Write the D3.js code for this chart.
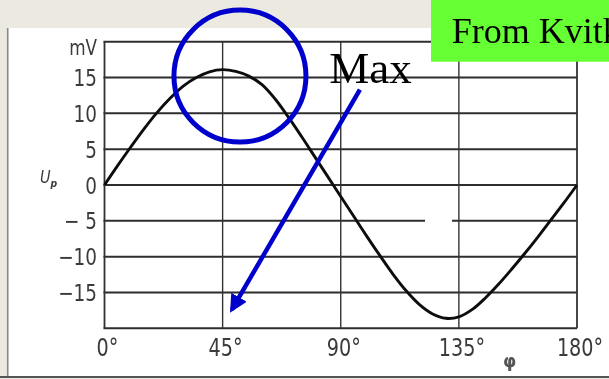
<!DOCTYPE html>
<html>
<head>
<meta charset="utf-8">
<script src="https://cdn.jsdelivr.net/npm/d3@7"></script>
<style>
html,body{margin:0;padding:0;background:#ECE9E0;}
svg{display:block;}
</style>
</head>
<body>
<svg id="chart" width="609" height="379"></svg>
<script>
// ---- data ----
const phiDeg  = [0, 5, 10, 15, 20, 25, 30, 35, 40, 45, 50, 55, 60, 65, 70, 75, 80, 85, 90, 95, 100, 105, 110, 115, 120, 125, 130, 135, 140, 145, 150, 155, 160, 165, 170, 175, 180];
const voltage = [0, 2.7, 5.3, 7.8, 10.1, 12.1, 13.8, 15.0, 15.8, 16.1, 15.85, 15.2, 14.0, 12.0, 9.5, 6.8, 4.0, 1.2, -1.6, -4.4, -7.2, -9.9, -12.5, -14.8, -16.7, -18.0, -18.6, -18.4, -17.4, -15.8, -13.9, -11.8, -9.6, -7.3, -4.9, -2.5, 0];
const yTicks = [-15, -10, -5, 0, 5, 10, 15];
const yTickLabels = ["\u221215", "\u221210", "\u2212 5", "0", "5", "10", "15"];
const xTicks = [0, 45, 90, 135, 180];
const xTickLabels = ["0\u00B0", "45\u00B0", "90\u00B0", "135\u00B0", "180\u00B0"];
const yUnit = "mV";
const yName = "U";
const yNameSub = "p";
const xName = "\u03C6";
const noteText = "Max";
const sourceText = "From Kvitka";
// annotation anchors in data units
const circleAt = [51.6, 15.2];
const arrowFrom = [97.3, 13.3];
const arrowTo = [48.5, -17.4];
const noteAt = [85.6, 14.2];

// ---- layout ----
const svg = d3.select("#chart");
const W = 609, H = 379;
const x = d3.scaleLinear().domain([0, 180]).range([104.5, 577]);
const y = d3.scaleLinear().domain([-20, 20]).range([328.3, 41.7]);

// background panels
svg.append("rect").attr("x", 0).attr("y", 0).attr("width", W).attr("height", H).attr("fill", "#ECE9E0");
svg.append("rect").attr("x", 8.5).attr("y", 28).attr("width", W - 8.5).attr("height", 348).attr("fill", "#ffffff");
svg.append("line").attr("x1", 7.7).attr("x2", 7.7).attr("y1", 28).attr("y2", 377).attr("stroke", "#8a8a8a").attr("stroke-width", 1.6);
svg.append("line").attr("x1", 0).attr("x2", W).attr("y1", 377).attr("y2", 377).attr("stroke", "#555").attr("stroke-width", 2);

const defs = svg.append("defs");
defs.append("filter").attr("id", "scan").attr("x", "-5%").attr("y", "-5%").attr("width", "110%").attr("height", "110%")
  .append("feGaussianBlur").attr("stdDeviation", 0.55);
defs.append("marker").attr("id", "head").attr("viewBox", "0 0 10 10")
  .attr("refX", 8).attr("refY", 5).attr("markerWidth", 4).attr("markerHeight", 4)
  .attr("orient", "auto").attr("markerUnits", "strokeWidth")
  .append("path").attr("d", "M0,0 L10,5 L0,10 z").attr("fill", "#0000CC");

const scan = svg.append("g").attr("filter", "url(#scan)");

// horizontal grid lines (every 5 mV from -20 to 20)
const hLines = d3.range(-20, 20.01, 5);
scan.append("g").selectAll("line").data(hLines).join("line")
  .attr("x1", x(0) - 1).attr("x2", x(180))
  .attr("y1", d => y(d)).attr("y2", d => y(d))
  .attr("stroke", "#2e2e2e").attr("stroke-width", 2);

// vertical grid lines
scan.append("g").selectAll("line").data(xTicks).join("line")
  .attr("x1", d => x(d)).attr("x2", d => x(d))
  .attr("y1", y(20)).attr("y2", y(-20))
  .attr("stroke", "#333").attr("stroke-width", d => (d === 0 || d === 180) ? 1.8 : 1.4);

// curve
const pts = phiDeg.map((p, i) => [p, voltage[i]]);
const line = d3.line().x(d => x(d[0])).y(d => y(d[1])).curve(d3.curveCatmullRom.alpha(0.5));
scan.append("path").datum(pts).attr("d", line)
  .attr("fill", "none").attr("stroke", "#111").attr("stroke-width", 2.9);

// y tick labels
const labFont = "'DejaVu Sans', sans-serif";
scan.append("g").selectAll("text").data(yTicks).join("text")
  .attr("transform", d => `translate(97,${y(d) + 8.5}) scale(0.8,1)`)
  .attr("text-anchor", "end").attr("font-family", labFont).attr("font-size", 23)
  .attr("fill", "#3a3a3a").text((d, i) => yTickLabels[i]);
scan.append("text")
  .attr("transform", `translate(97,${y(20) + 13.5}) scale(0.8,1)`)
  .attr("text-anchor", "end").attr("font-family", labFont).attr("font-size", 21)
  .attr("fill", "#3a3a3a").text(yUnit);

// y name
const yn = scan.append("text")
  .attr("transform", `translate(40,${y(0) - 2}) scale(0.85,1)`)
  .attr("font-family", labFont).attr("font-size", 17).attr("font-style", "italic")
  .attr("fill", "#3a3a3a");
yn.append("tspan").text(yName);
yn.append("tspan").attr("font-size", 11).attr("font-weight", "bold").attr("dy", 4).text(yNameSub);

// x tick labels
scan.append("g").selectAll("text").data(xTicks).join("text")
  .attr("transform", d => `translate(${x(d) + 3},356) scale(0.8,1)`)
  .attr("text-anchor", "middle").attr("font-family", labFont).attr("font-size", 24)
  .attr("fill", "#3a3a3a").text((d, i) => xTickLabels[i]);

// x name
scan.append("text").attr("x", x(154.3)).attr("y", 367)
  .attr("text-anchor", "middle").attr("font-family", labFont).attr("font-size", 17)
  .attr("font-weight", "bold").attr("fill", "#555").text(xName);

// white patch artifact
svg.append("rect").attr("x", x(122.1)).attr("y", y(-3.7)).attr("width", 27).attr("height", 17).attr("fill", "#ffffff");

// annotation: circle
svg.append("circle").attr("cx", x(circleAt[0])).attr("cy", y(circleAt[1])).attr("r", 66)
  .attr("fill", "none").attr("stroke", "#0000CC").attr("stroke-width", 5);

// annotation: arrow
svg.append("line")
  .attr("x1", x(arrowFrom[0])).attr("y1", y(arrowFrom[1]))
  .attr("x2", x(arrowTo[0])).attr("y2", y(arrowTo[1]))
  .attr("stroke", "#0000CC").attr("stroke-width", 4.5).attr("marker-end", "url(#head)");

// annotation text
svg.append("text").attr("x", x(noteAt[0])).attr("y", y(noteAt[1]))
  .attr("font-family", "'Liberation Serif', 'Times New Roman', serif").attr("font-size", 45)
  .attr("fill", "#000").text(noteText);

// source box
svg.append("rect").attr("x", 431).attr("y", 0).attr("width", W - 431).attr("height", 61.7).attr("fill", "#66FF33");
svg.append("text").attr("x", 451.7).attr("y", 42.7)
  .attr("font-family", "'Liberation Serif', 'Times New Roman', serif").attr("font-size", 36)
  .attr("fill", "#000").text(sourceText);
</script>
</body>
</html>
